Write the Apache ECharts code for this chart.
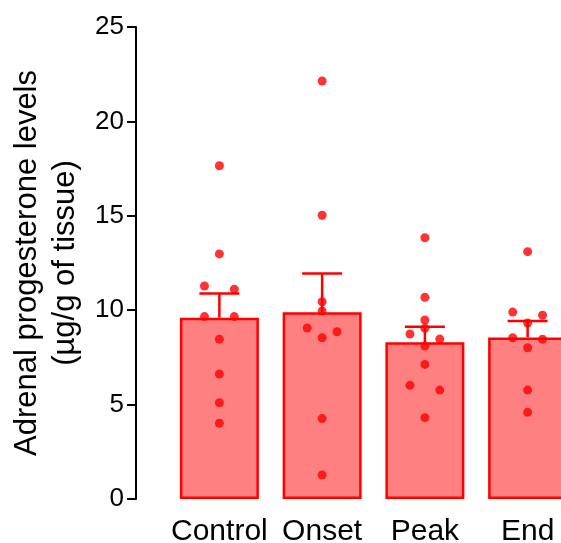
<!DOCTYPE html>
<html>
<head>
<meta charset="utf-8">
<script src="https://cdn.jsdelivr.net/npm/echarts@6/dist/echarts.min.js"></script>
<style>
  html, body { margin: 0; padding: 0; background: #ffffff; }
  #chart { width: 561px; height: 543px; }
</style>
</head>
<body>
<div id="chart"></div>
<script>
// ---- data ----
const categories = ['Control', 'Onset', 'Peak', 'End'];
const controlValues = [17.65, 12.98, 11.28, 11.11, 9.66, 9.66, 8.46, 6.62, 5.10, 4.01];
const onsetValues   = [22.14, 15.03, 10.45, 9.96, 9.06, 8.86, 8.54, 4.26, 1.27];
const peakValues    = [13.84, 10.68, 9.48, 9.04, 8.74, 8.47, 8.10, 7.13, 6.02, 5.77, 4.31];
const endValues     = [13.10, 9.90, 9.73, 9.32, 8.54, 8.46, 8.01, 5.77, 4.59];
const means = [9.60, 9.89, 8.30, 8.56];
const sems  = [1.29, 2.06, 0.83, 0.87];
const yTicks = [0, 5, 10, 15, 20, 25];
const yTitle = 'Adrenal progesterone levels\n(µg/g of tissue)';

// ---- layout ----
const groups = [controlValues, onsetValues, peakValues, endValues];
const RED = '#ff0000';
const FILL = '#ff8080';
const FONT = 'Liberation Sans, Arial, Helvetica, sans-serif';
const yMin = yTicks[0], yMax = yTicks[yTicks.length - 1];
const yStep = yTicks[1] - yTicks[0];

// symmetric spread of near-equal points (beeswarm-like), offsets in category units
const SPREAD = 0.145;
const CLOSE = 0.29;
function spreadGroup(values, catIndex) {
  const sorted = values.slice().sort((a, b) => b - a);
  const clusters = [];
  sorted.forEach(v => {
    const last = clusters[clusters.length - 1];
    if (last && last[last.length - 1] - v < CLOSE) last.push(v);
    else clusters.push([v]);
  });
  const pts = [];
  clusters.forEach(c => {
    let offs;
    if (c.length === 1) offs = [0];
    else if (c.length === 2) offs = [-1, 1];
    else offs = [0, -1, 1, -2, 2].slice(0, c.length);
    c.forEach((v, i) => pts.push([catIndex + offs[i] * SPREAD, v]));
  });
  return pts;
}
const scatterData = [];
groups.forEach((g, i) => spreadGroup(g, i).forEach(p => scatterData.push(p)));
const errData = means.map((m, i) => [i, m, sems[i]]);

const chart = echarts.init(document.getElementById('chart'), null, { renderer: 'canvas' });
chart.setOption({
  animation: false,
  backgroundColor: '#ffffff',
  grid: { left: 168, top: 27, width: 411, height: 472, containLabel: false, outerBoundsMode: 'none' },
  xAxis: [
    {
      type: 'category',
      data: categories,
      boundaryGap: true,
      axisLine: { show: false },
      axisTick: { show: false },
      axisLabel: { color: '#000', fontSize: 30, fontFamily: FONT, margin: 18, interval: 0, hideOverlap: false },
      splitLine: { show: false }
    },
    {
      type: 'value',
      min: -0.5, max: categories.length - 0.5,
      show: false
    }
  ],
  yAxis: {
    type: 'value',
    min: yMin, max: yMax, interval: yStep,
    offset: 32,
    name: yTitle,
    nameLocation: 'middle',
    nameGap: 47,
    nameRotate: 90,
    nameTextStyle: { color: '#000', fontSize: 31, fontFamily: FONT, lineHeight: 38, align: 'center' },
    axisLine: { show: true, onZero: false, lineStyle: { color: '#000', width: 2 } },
    axisTick: { show: true, length: 9, lineStyle: { color: '#000', width: 2 } },
    axisLabel: { color: '#000', fontSize: 26, fontFamily: FONT, margin: 12 },
    splitLine: { show: false }
  },
  series: [
    {
      type: 'bar',
      xAxisIndex: 0,
      data: means,
      barWidth: 79,
      itemStyle: { color: FILL, borderColor: RED, borderWidth: 2.5 },
      z: 1
    },
    {
      type: 'custom',
      xAxisIndex: 1,
      data: errData,
      encode: { x: 0, y: 1 },
      z: 2,
      renderItem: function (params, api) {
        const x = api.value(0), m = api.value(1), s = api.value(2);
        const base = api.coord([x, m]);
        const top = api.coord([x, m + s]);
        const hw = 20;
        return {
          type: 'group',
          children: [
            { type: 'line', shape: { x1: base[0], y1: base[1], x2: top[0], y2: top[1] }, style: { stroke: RED, lineWidth: 2.5 } },
            { type: 'line', shape: { x1: top[0] - hw, y1: top[1], x2: top[0] + hw, y2: top[1] }, style: { stroke: RED, lineWidth: 2.5 } }
          ]
        };
      }
    },
    {
      type: 'scatter',
      xAxisIndex: 1,
      data: scatterData,
      symbol: 'circle',
      symbolSize: 9,
      itemStyle: { color: RED },
      z: 3
    }
  ]
});
</script>
</body>
</html>
